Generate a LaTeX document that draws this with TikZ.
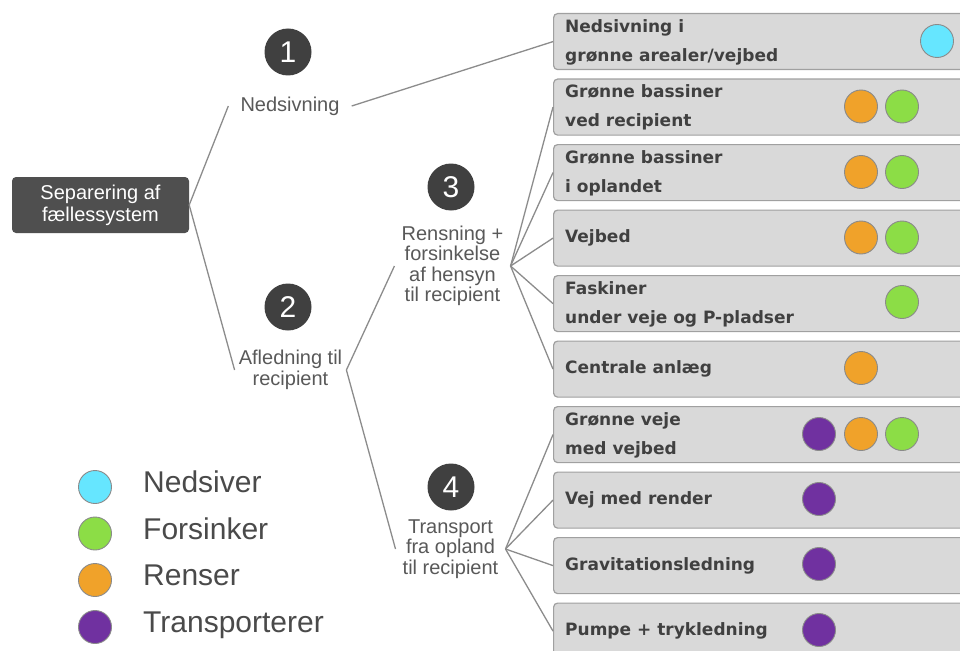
\documentclass[tikz,border=0pt]{standalone}
\usepackage{fontspec}
\setmainfont{Liberation Sans}
\newfontfamily\boxfont{DejaVu Sans}
\definecolor{cyanc}{HTML}{66E6FF}
\definecolor{greenc}{HTML}{8CDD46}
\definecolor{orangec}{HTML}{F0A22A}
\definecolor{purplec}{HTML}{7031A0}
\definecolor{numdark}{HTML}{404040}
\definecolor{rootgray}{HTML}{4F4F4F}
\definecolor{boxfill}{HTML}{D9D9D9}
\definecolor{boxborder}{HTML}{A0A0A0}
\definecolor{linegray}{HTML}{8C8C8C}
\definecolor{dotborder}{HTML}{8A8A8A}
\definecolor{textdark}{HTML}{404040}
\definecolor{labelgray}{HTML}{595959}
\definecolor{legendgray}{HTML}{4A4A4A}
\begin{document}
\begin{tikzpicture}[x=1pt,y=-1pt,
  conn/.style={draw=linegray, line width=1.3pt},
  optbox/.style={draw=boxborder, fill=boxfill, line width=1.2pt, rounded corners=4pt,
    minimum width=420pt, minimum height=56pt, anchor=north west, inner sep=0pt},
  boxtext/.style={anchor=west, align=left, inner sep=0pt, text=textdark,
    font=\boxfont\bfseries\fontsize{17}{29}\selectfont},
  dot/.style={circle, draw=dotborder, line width=0.9pt, minimum size=33pt, inner sep=0pt},
  num/.style={circle, fill=numdark, text=white, minimum size=47pt, inner sep=0pt,
    font=\fontsize{30}{30}\selectfont},
  lbl/.style={align=center, text=labelgray, font=\fontsize{20}{20.5}\selectfont},
  legtext/.style={anchor=base west, inner sep=0pt, text=legendgray, font=\fontsize{30}{30}\selectfont}
]
\useasboundingbox (0,0) rectangle (960,650);
\fill[white] (0,0) rectangle (960,650);

% root
\node[fill=rootgray, rounded corners=4pt, minimum width=177pt, minimum height=56pt,
  inner sep=0pt, text=white, align=center, font=\fontsize{20}{22}\selectfont]
  (root) at (100.5,205) {Separering af\\fællessystem};

% numbered circles
\node[num] (n1) at (288,52) {1};
\node[num] (n2) at (288,307) {2};
\node[num] (n3) at (451,187) {3};
\node[num] (n4) at (451,487) {4};

% branch labels
\node[lbl, inner xsep=12pt, inner ysep=2pt] (ned) at (290,106) {Nedsivning};
\node[lbl, inner xsep=4pt, inner ysep=2pt] (afl) at (290.5,370) {Afledning til\\recipient};
\node[lbl, inner xsep=7pt, inner ysep=2pt] (rens) at (452.5,266) {Rensning +\\forsinkelse\\af hensyn\\til recipient};
\node[lbl, inner xsep=7pt, inner ysep=2pt] (trans) at (450.5,549) {Transport\\fra opland\\til recipient};

% option boxes
\node[optbox] (b0) at (553,13) {};
\node[optbox] (b1) at (553,78.5) {};
\node[optbox] (b2) at (553,144) {};
\node[optbox] (b3) at (553,209.5) {};
\node[optbox] (b4) at (553,275) {};
\node[optbox] (b5) at (553,340.5) {};
\node[optbox] (b6) at (553,406) {};
\node[optbox] (b7) at (553,471.5) {};
\node[optbox] (b8) at (553,537) {};
\node[optbox] (b9) at (553,602.5) {};

\node[boxtext] (t0) at (565,42) {Nedsivning i\\grønne arealer/vejbed};
\node[boxtext] (t1) at (565,107.5) {Grønne bassiner\\ved recipient};
\node[boxtext] (t2) at (565,173) {Grønne bassiner\\i oplandet};
\node[boxtext] (t3) at (565,237.5) {Vejbed};
\node[boxtext] (t4) at (565,304) {Faskiner\\under veje og P-pladser};
\node[boxtext] (t5) at (565,369) {Centrale anlæg};
\node[boxtext] (t6) at (565,435) {Grønne veje\\med vejbed};
\node[boxtext] (t7) at (565,500) {Vej med render};
\node[boxtext] (t8) at (565,565.5) {Gravitationsledning};
\node[boxtext] (t9) at (565,631) {Pumpe + trykledning};

% dots in boxes
\node[dot, fill=cyanc] (d0c) at (937,41) {};
\node[dot, fill=orangec] (d1o) at (861,106.5) {};
\node[dot, fill=greenc] (d1g) at (902,106.5) {};
\node[dot, fill=orangec] (d2o) at (861,172) {};
\node[dot, fill=greenc] (d2g) at (902,172) {};
\node[dot, fill=orangec] (d3o) at (861,237.5) {};
\node[dot, fill=greenc] (d3g) at (902,237.5) {};
\node[dot, fill=greenc] (d4g) at (902,302) {};
\node[dot, fill=orangec] (d5o) at (861,368) {};
\node[dot, fill=purplec] (d6p) at (819,434) {};
\node[dot, fill=orangec] (d6o) at (861,434) {};
\node[dot, fill=greenc] (d6g) at (902,434) {};
\node[dot, fill=purplec] (d7p) at (819,499) {};
\node[dot, fill=purplec] (d8p) at (819,564) {};
\node[dot, fill=purplec] (d9p) at (819,630) {};

% connectors
\draw[conn] (root.east) -- (ned.west);
\draw[conn] (root.east) -- (afl.west);
\draw[conn] (ned.east) -- (b0.west);
\draw[conn] (afl.east) -- (rens.west);
\draw[conn] (afl.east) -- (trans.west);
\foreach \b in {b1,b2,b3,b4,b5} \draw[conn] (rens.east) -- (\b.west);
\foreach \b in {b6,b7,b8,b9} \draw[conn] (trans.east) -- (\b.west);

% legend
\node[dot, fill=cyanc] (l1) at (95,487) {};
\node[dot, fill=greenc] (l2) at (95,533.5) {};
\node[dot, fill=orangec] (l3) at (95,580) {};
\node[dot, fill=purplec] (l4) at (95,627) {};
\node[legtext] (lt1) at (143,492.5) {Nedsiver};
\node[legtext] (lt2) at (143,539) {Forsinker};
\node[legtext] (lt3) at (143,585.5) {Renser};
\node[legtext] (lt4) at (143,632.5) {Transporterer};
\end{tikzpicture}
\end{document}
